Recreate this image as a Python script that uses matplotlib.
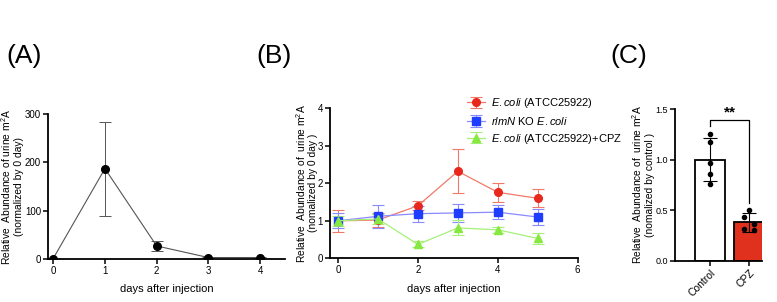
import matplotlib
matplotlib.use("Agg")
import matplotlib.pyplot as plt

plt.rcParams["font.family"] = ["Liberation Sans", "DejaVu Sans"]
plt.rcParams["mathtext.fontset"] = "custom"
plt.rcParams["mathtext.rm"] = "Liberation Sans"
plt.rcParams["mathtext.it"] = "Liberation Sans:italic"
plt.rcParams["font.size"] = 7.5

# panel A
days_a = [0, 1, 2, 3, 4]
abund_a = [1, 187, 27, 3, 3]
err_a = [0, 97, 10, 1, 1]

# panel B
days_b = [0, 1, 2, 3, 4, 5]
ecoli = [1.0, 1.02, 1.40, 2.32, 1.76, 1.60]
ecoli_err = [0.30, 0.18, 0.12, 0.59, 0.26, 0.24]
rlmn = [1.0, 1.12, 1.19, 1.21, 1.23, 1.10]
rlmn_err = [0.20, 0.31, 0.21, 0.25, 0.19, 0.22]
cpz = [1.0, 1.05, 0.37, 0.81, 0.76, 0.53]
cpz_err = [0.13, 0.14, 0.08, 0.20, 0.08, 0.15]

# panel C
groups = ["Control", "CPZ"]
means_c = [1.0, 0.38]
sd_c = [0.21, 0.095]
points_control = [1.25, 1.17, 0.97, 0.86, 0.76]
points_cpz = [0.50, 0.43, 0.36, 0.31, 0.30]


def style_axes(ax, size=7):
    for s in ["top", "right"]:
        ax.spines[s].set_visible(False)
    for s in ["left", "bottom"]:
        ax.spines[s].set_linewidth(1.3)
    ax.tick_params(width=1.1, length=3.5, direction="out", pad=1.5,
                   labelsize=size)


fig = plt.figure(figsize=(7.77, 3.02), dpi=100)

ax_a = fig.add_axes([0.0618, 0.1424, 0.305, 0.480])
style_axes(ax_a)
ax_a.errorbar(days_a, abund_a, yerr=err_a, color="#555555", lw=0.8,
              marker="o", ms=5.5, mfc="black", mec="black",
              capsize=4, elinewidth=0.7, capthick=0.7)
ax_a.set_xlim(-0.1, 4.48)
ax_a.set_ylim(0, 300)
ax_a.set_xticks([0, 1, 2, 3, 4])
ax_a.set_yticks([0, 100, 200, 300])
ax_a.set_xlabel("days after injection", fontsize=8, labelpad=6)
ax_a.set_ylabel("Relative  Abundance of urine m$^2$A\n(normalized by 0 day)",
                fontsize=7.4, linespacing=1.05)
ax_a.yaxis.set_label_coords(-0.102, 0.5)

ax_b = fig.add_axes([0.4247, 0.1447, 0.3188, 0.4967])
style_axes(ax_b)
ax_b.errorbar(days_b, ecoli, yerr=ecoli_err, color="#f07a6a", lw=0.9,
              marker="o", ms=5.5, mfc="#e8281c", mec="#e8281c",
              ecolor="#f07a6a", capsize=4, elinewidth=0.8, capthick=0.8,
              label="$\\mathit{E.coli}$ (ATCC25922)")
ax_b.errorbar(days_b, rlmn, yerr=rlmn_err, color="#8a8aff", lw=0.9,
              marker="s", ms=5.5, mfc="#1f3dff", mec="#1f3dff",
              ecolor="#8a8aff", capsize=4, elinewidth=0.8, capthick=0.8,
              label="$\\mathit{rlmN}$ KO $\\mathit{E.coli}$")
ax_b.errorbar(days_b, cpz, yerr=cpz_err, color="#a6f07a", lw=0.9,
              marker="^", ms=5.5, mfc="#86e840", mec="#86e840",
              ecolor="#a6f07a", capsize=4, elinewidth=0.8, capthick=0.8,
              label="$\\mathit{E.coli}$ (ATCC25922)+CPZ")
ax_b.set_xlim(-0.2, 6)
ax_b.set_ylim(0, 4)
ax_b.set_xticks([0, 2, 4, 6])
ax_b.set_yticks([0, 1, 2, 3, 4])
ax_b.set_xlabel("days after injection", fontsize=8, labelpad=6)
ax_b.set_ylabel("Relative  Abundance of  urine m$^2$A\n(nomalized by 0 day )",
                fontsize=7.4, linespacing=1.05)
ax_b.yaxis.set_label_coords(-0.048, 0.5)
ax_b.legend(loc="upper left", bbox_to_anchor=(0.535, 1.11), frameon=False,
            fontsize=8, handlelength=1.6, handletextpad=0.6,
            labelspacing=0.42, borderaxespad=0)

ax_c = fig.add_axes([0.8687, 0.1368, 0.112, 0.502])
style_axes(ax_c, size=6.5)
xs = range(len(groups))
ax_c.bar(xs, means_c, width=0.75, color=["white", "#e0301e"],
         edgecolor="black", linewidth=1.3, zorder=1)
ax_c.errorbar(xs, means_c, yerr=sd_c, fmt="none", ecolor="black",
              elinewidth=0.8, capsize=5, capthick=0.8, zorder=2)
pc_x = [0, 0, 0, 0, 0]
pz_x = [1, 0.88, 1.12, 0.88, 1.12]
ax_c.scatter(pc_x, points_control, s=9, color="black", zorder=3)
ax_c.scatter(pz_x, points_cpz, s=9, color="black", zorder=3)
ax_c.plot([0, 0, 1, 1], [1.33, 1.39, 1.39, 0.57], color="black", lw=0.9)
ax_c.text(0.5, 1.40, "**", ha="center", va="bottom", fontsize=11,
          fontweight="bold")
ax_c.set_xlim(-0.9, 1.33)
ax_c.set_ylim(0, 1.5)
ax_c.set_xticks(list(xs))
ax_c.set_xticklabels(groups, rotation=45, ha="right", rotation_mode="anchor",
                     fontsize=7.5)
ax_c.set_yticks([0.0, 0.5, 1.0, 1.5])
ax_c.set_yticklabels(["0.0", "0.5", "1.0", "1.5"])
ax_c.set_ylabel("Relative  Abundance of  urine m$^2$A\n(nomalized by control )",
                fontsize=7.4, linespacing=1.05)
ax_c.yaxis.set_label_coords(-0.235, 0.5)

fig.text(0.008, 0.855, "(A)", fontsize=19, va="top")
fig.text(0.330, 0.855, "(B)", fontsize=19, va="top")
fig.text(0.785, 0.855, "(C)", fontsize=19, va="top")

fig.savefig("out.png", dpi=100)
